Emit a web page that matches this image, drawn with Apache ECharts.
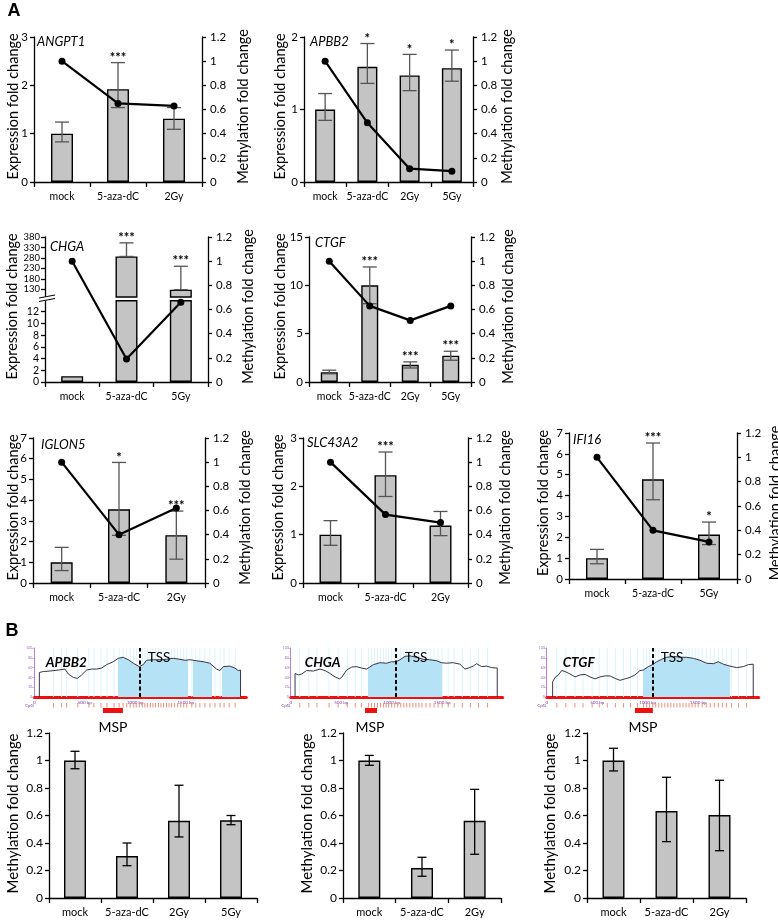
<!DOCTYPE html>
<html><head><meta charset="utf-8">
<script src="https://cdn.jsdelivr.net/npm/echarts@6/dist/echarts.min.js"></script>
<style>html,body{margin:0;padding:0;background:#fff}#c{width:778px;height:920px}</style>
</head><body><div id="c"></div>
<script>
// ================= DATA =================
// Panel A
const angpt1Cats = ['mock', '5-aza-dC', '2Gy'];
const angpt1Expr = [1.00, 1.92, 1.31];
const angpt1ErrLo = [0.83, 1.54, 1.09];
const angpt1ErrHi = [1.24, 2.47, 1.54];
const angpt1Meth = [1.00, 0.65, 0.63];
const angpt1Stars = ['', '***', ''];

const apbb2Cats = ['mock', '5-aza-dC', '2Gy', '5Gy'];
const apbb2Expr = [1.00, 1.59, 1.47, 1.57];
const apbb2ErrLo = [0.85, 1.36, 1.26, 1.39];
const apbb2ErrHi = [1.22, 1.91, 1.76, 1.82];
const apbb2Meth = [1.00, 0.49, 0.11, 0.09];
const apbb2Stars = ['', '*', '*', '*'];

const chgaCats = ['mock', '5-aza-dC', '5Gy'];
const chgaExpr = [1.0, 287, 128];
const chgaErrLo = [1.0, 287, 128];
const chgaErrHi = [1.0, 352, 240];
const chgaMeth = [1.00, 0.19, 0.66];
const chgaStars = ['', '***', '***'];
const chgaLowTicks = [0, 2, 4, 6, 8, 10, 12];
const chgaHighTicks = [130, 180, 230, 280, 330, 380];

const ctgfCats = ['mock', '5-aza-dC', '2Gy', '5Gy'];
const ctgfExpr = [1.00, 10.0, 1.78, 2.72];
const ctgfErrLo = [0.85, 8.1, 1.45, 2.25];
const ctgfErrHi = [1.22, 11.9, 2.08, 3.18];
const ctgfMeth = [1.00, 0.63, 0.51, 0.63];
const ctgfStars = ['', '***', '***', '***'];

const iglon5Cats = ['mock', '5-aza-dC', '2Gy'];
const iglon5Expr = [1.00, 3.56, 2.31];
const iglon5ErrLo = [0.60, 2.30, 1.15];
const iglon5ErrHi = [1.72, 5.82, 3.47];
const iglon5Meth = [1.00, 0.40, 0.62];
const iglon5Stars = ['', '*', '***'];

const slc43a2Cats = ['mock', '5-aza-dC', '2Gy'];
const slc43a2Expr = [1.00, 2.23, 1.19];
const slc43a2ErrLo = [0.78, 1.79, 0.98];
const slc43a2ErrHi = [1.29, 2.71, 1.48];
const slc43a2Meth = [1.00, 0.566, 0.50];
const slc43a2Stars = ['', '***', ''];

const ifi16Cats = ['mock', '5-aza-dC', '5Gy'];
const ifi16Expr = [1.00, 4.78, 2.13];
const ifi16ErrLo = [0.73, 3.80, 1.65];
const ifi16ErrHi = [1.42, 6.52, 2.73];
const ifi16Meth = [1.00, 0.40, 0.305];
const ifi16Stars = ['', '***', '*'];

// Panel B: MSP
const mspApbb2Cats = ['mock', '5-aza-dC', '2Gy', '5Gy'];
const mspApbb2Vals = [1.00, 0.305, 0.562, 0.565];
const mspApbb2Lo = [0.94, 0.235, 0.444, 0.533];
const mspApbb2Hi = [1.067, 0.40, 0.82, 0.60];

const mspChgaCats = ['mock', '5-aza-dC', '2Gy'];
const mspChgaVals = [1.00, 0.218, 0.562];
const mspChgaLo = [0.965, 0.158, 0.318];
const mspChgaHi = [1.037, 0.296, 0.79];

const mspCtgfCats = ['mock', '5-aza-dC', '2Gy'];
const mspCtgfVals = [1.00, 0.632, 0.603];
const mspCtgfLo = [0.924, 0.41, 0.344];
const mspCtgfHi = [1.089, 0.878, 0.856];

// Panel B: CpG island tracks ([bp, GC%])
const trackApbb2 = [[50,0],[50,50],[89,52],[155,53],[238,55],[304,57],[337,47],[386,40],[426,38],[469,45],[518,55],[568,57],[617,57],[667,59],[716,66],[782,72],[832,79],[881,81],[931,76],[980,69],[1040,62],[1079,66],[1112,75],[1178,76],[1244,76],[1310,77],[1376,79],[1442,77],[1492,75],[1541,76],[1607,74],[1673,72],[1739,69],[1805,57],[1838,54],[1871,62],[1937,63],[1987,59],[2020,54],[2043,55],[2043,0]];
const trackApbb2Islands = [[832,1525],[1574,1756],[1855,2043]];
const trackApbb2Tss = 1040;
const trackApbb2Msp = [680, 878];
const trackApbb2CpG = [190,270,320,430,540,590,660,720,790,840,880,915,950,985,1010,1040,1070,1095,1120,1150,1175,1200,1230,1255,1280,1310,1335,1360,1390,1420,1450,1480,1510,1560,1600,1640,1690,1740,1790,1840,1880,1930,1990];

const trackChga = [[43,0],[43,48],[76,45],[109,47],[158,54],[224,53],[290,57],[340,54],[389,48],[439,41],[482,37],[505,40],[554,55],[604,61],[653,62],[703,59],[752,57],[769,59],[818,66],[884,70],[950,69],[1000,72],[1043,72],[1082,76],[1132,83],[1181,84],[1247,81],[1313,77],[1379,76],[1445,74],[1495,70],[1544,69],[1610,70],[1676,67],[1726,57],[1759,59],[1808,63],[1841,68],[1891,62],[1940,63],[1990,60],[2046,59],[2046,0]];
const trackChgaIslands = [[769,1495]];
const trackChgaTss = 1043;
const trackChgaMsp = [736, 855];
const trackChgaCpG = [90,180,260,380,470,560,640,700,770,800,830,860,890,920,945,970,1000,1030,1060,1090,1120,1150,1180,1210,1240,1270,1300,1340,1380,1420,1460,1500,1560,1620,1700,1780,1860,1950];

const trackCtgf = [[59,0],[59,31],[83,40],[116,45],[149,54],[182,52],[231,47],[281,41],[330,45],[380,46],[429,41],[479,37],[528,41],[578,43],[627,43],[677,38],[726,34],[776,37],[825,40],[875,45],[924,54],[957,55],[1007,62],[1049,66],[1089,72],[1139,77],[1188,81],[1254,83],[1320,81],[1386,81],[1452,79],[1518,75],[1584,69],[1650,68],[1700,72],[1749,67],[1815,63],[1881,60],[1947,62],[1997,66],[2046,67],[2046,0]];
const trackCtgfIslands = [[950,1815]];
const trackCtgfTss = 1049;
const trackCtgfMsp = [874, 1052];
const trackCtgfCpG = [100,190,280,360,450,520,600,680,760,830,900,960,990,1020,1050,1080,1110,1140,1170,1200,1230,1260,1290,1320,1350,1380,1410,1440,1470,1500,1540,1580,1620,1660,1700,1740,1780,1830,1900,1980];
const trackTickValues = [0, 500, 1000, 1500];

// ================= BUILD =================
const FONT = 'Lato, "Liberation Sans", sans-serif';
const grid = [], xAxis = [], yAxis = [], series = [], graphic = [], visualMap = [];

function addGrid(l, t, w, h) {
  grid.push({left: l, top: t, width: w, height: h, containLabel: false, outerBoundsMode: 'none'});
  return grid.length - 1;
}
function catAxis(gi, cats, fs, show) {
  xAxis.push({type: 'category', gridIndex: gi, data: cats, show: show !== false, boundaryGap: true,
    axisLine: {show: true, onZero: false, lineStyle: {color: '#000', width: 1.3}},
    axisTick: {show: true, length: 5, interval: 0, alignWithLabel: false, lineStyle: {color: '#000', width: 1.3}},
    axisLabel: {show: true, interval: 0, margin: 9, fontSize: fs, fontFamily: FONT, color: '#000'},
    splitLine: {show: false}});
  return xAxis.length - 1;
}
function valAxis(gi, pos, min, max, interval, fs, extra) {
  const a = {type: 'value', gridIndex: gi, position: pos, min: min, max: max,
    axisLine: {show: true, onZero: false, lineStyle: {color: '#000', width: 1.3}},
    axisTick: {show: true, length: 4, lineStyle: {color: '#000', width: 1.3}},
    axisLabel: {margin: pos === 'left' ? 6 : 8, fontSize: fs, fontFamily: FONT, color: '#000', hideOverlap: false},
    splitLine: {show: false}};
  if (interval != null) a.interval = interval;
  if (extra) {
    if (extra.labelValues) { a.axisLabel.customValues = extra.labelValues; a.axisTick.customValues = extra.labelValues; }
    if (extra.margin != null) a.axisLabel.margin = extra.margin;
  }
  yAxis.push(a);
  return yAxis.length - 1;
}
function barSeries(xi, yi, data, bw) {
  series.push({type: 'bar', xAxisIndex: xi, yAxisIndex: yi, data: data, barWidth: bw, silent: true, z: 2,
    itemStyle: {color: '#c4c4c4', borderColor: '#000', borderWidth: 1.4}});
}
function errSeries(xi, yi, lo, hi, capW, color, clip) {
  series.push({type: 'custom', xAxisIndex: xi, yAxisIndex: yi, clip: !!clip, z: 3, silent: true,
    data: lo.map((l, i) => [i, l, hi[i]]), encode: {x: 0, y: [1, 2]},
    renderItem: function (params, api) {
      const a = api.coord([api.value(0), api.value(1)]);
      const b = api.coord([api.value(0), api.value(2)]);
      const x = a[0];
      const st = {stroke: color, lineWidth: 1.3};
      return {type: 'group', children: [
        {type: 'line', shape: {x1: x, y1: a[1], x2: x, y2: b[1]}, style: st},
        {type: 'line', shape: {x1: x - capW / 2, y1: a[1], x2: x + capW / 2, y2: a[1]}, style: st},
        {type: 'line', shape: {x1: x - capW / 2, y1: b[1], x2: x + capW / 2, y2: b[1]}, style: st}
      ]};
    }});
}
function starSeries(xi, yi, hi, stars) {
  series.push({type: 'custom', xAxisIndex: xi, yAxisIndex: yi, z: 4, silent: true,
    data: hi.map((h, i) => [i, h]), encode: {x: 0, y: 1},
    renderItem: function (params, api) {
      const s = stars[params.dataIndex];
      if (!s) return null;
      const p = api.coord([api.value(0), api.value(1)]);
      return {type: 'text', x: p[0], y: p[1] - 5,
        style: {text: s, fontSize: 13, fontWeight: 'bold', fontFamily: FONT, fill: '#000', align: 'center', verticalAlign: 'middle'}};
    }});
}
function lineSeries(xi, yi, data) {
  series.push({type: 'line', xAxisIndex: xi, yAxisIndex: yi, data: data, symbol: 'circle', symbolSize: 7, z: 5, silent: true,
    lineStyle: {color: '#000', width: 2.2}, itemStyle: {color: '#000'}});
}
function txt(x, y, s, st, rot) {
  graphic.push({type: 'text', x: x, y: y, rotation: rot || 0, z: 20, silent: true,
    style: Object.assign({text: s, fontFamily: FONT, fontSize: 14.5, fill: '#000', align: 'center', verticalAlign: 'middle'}, st || {})});
}

// ---- Panel A standard panels ----
const panelsA = [
  {gene: 'ANGPT1', cats: angpt1Cats, expr: angpt1Expr, lo: angpt1ErrLo, hi: angpt1ErrHi, meth: angpt1Meth, stars: angpt1Stars,
   l: 34, r: 202, t: 37, b: 182, max: 3, step: 1, bw: 22, tl: 13, tr: 243, gx: 37, gy: 42},
  {gene: 'APBB2', cats: apbb2Cats, expr: apbb2Expr, lo: apbb2ErrLo, hi: apbb2ErrHi, meth: apbb2Meth, stars: apbb2Stars,
   l: 304, r: 473, t: 37, b: 182, max: 2, step: 1, bw: 20, tl: 280, tr: 507, gx: 310, gy: 42},
  {gene: 'CTGF', cats: ctgfCats, expr: ctgfExpr, lo: ctgfErrLo, hi: ctgfErrHi, meth: ctgfMeth, stars: ctgfStars,
   l: 309, r: 471, t: 237, b: 382, max: 15, step: 5, bw: 17, tl: 280, tr: 508, gx: 315, gy: 243},
  {gene: 'IGLON5', cats: iglon5Cats, expr: iglon5Expr, lo: iglon5ErrLo, hi: iglon5ErrHi, meth: iglon5Meth, stars: iglon5Stars,
   l: 33, r: 205, t: 438, b: 583, max: 7, step: 1, bw: 22, tl: 13, tr: 245, gx: 41, gy: 445},
  {gene: 'SLC43A2', cats: slc43a2Cats, expr: slc43a2Expr, lo: slc43a2ErrLo, hi: slc43a2ErrHi, meth: slc43a2Meth, stars: slc43a2Stars,
   l: 303, r: 468, t: 438, b: 583, max: 3, step: 1, bw: 22, tl: 278, tr: 505, gx: 307, gy: 443},
  {gene: 'IFI16', cats: ifi16Cats, expr: ifi16Expr, lo: ifi16ErrLo, hi: ifi16ErrHi, meth: ifi16Meth, stars: ifi16Stars,
   l: 569, r: 737, t: 433, b: 579, max: 7, step: 1, bw: 22, tl: 543, tr: 775, gx: 573, gy: 440}
];
panelsA.forEach(p => {
  const gi = addGrid(p.l, p.t, p.r - p.l, p.b - p.t);
  const xi = catAxis(gi, p.cats, 10.5);
  const yl = valAxis(gi, 'left', 0, p.max, p.step, 11.5);
  const yr = valAxis(gi, 'right', 0, 1.2, 0.2, 11.5);
  barSeries(xi, yl, p.expr, p.bw);
  errSeries(xi, yl, p.lo, p.hi, 14, '#555', false);
  starSeries(xi, yl, p.hi, p.stars);
  lineSeries(xi, yr, p.meth);
  const cy = (p.t + p.b) / 2 - 3;
  txt(p.tl, cy, 'Expression fold change', null, Math.PI / 2);
  txt(p.tr, cy, 'Methylation fold change', null, Math.PI / 2);
  txt(p.gx, p.gy, p.gene, {fontStyle: 'italic', fontSize: 13, align: 'left'});
});

// ---- CHGA broken-axis panel ----
(function () {
  const L = 45, R = 208, T = 237, B = 382, breakTop = 297, breakBot = 300;
  const gFull = addGrid(L, T, R - L, B - T);
  const gUp = addGrid(L, T, R - L, breakTop - T);
  const gLo = addGrid(L, breakBot, R - L, B - breakBot);
  const xFull = catAxis(gFull, chgaCats, 10.5);
  const xUp = catAxis(gUp, chgaCats, 10, false);
  const xLo = catAxis(gLo, chgaCats, 10, false);
  const yR = valAxis(gFull, 'right', 0, 1.2, 0.2, 11.5);
  const yUp = valAxis(gUp, 'left', 93, 380, null, 9.5, {labelValues: chgaHighTicks, margin: 5});
  const yLo = valAxis(gLo, 'left', 0, 14, null, 10.5, {labelValues: chgaLowTicks, margin: 6});
  const lowMax = 14;
  barSeries(xLo, yLo, chgaExpr.map(v => Math.min(v, lowMax)), 22);
  barSeries(xUp, yUp, chgaExpr, 22);
  errSeries(xUp, yUp, chgaErrLo, chgaErrHi, 14, '#555', true);
  starSeries(xUp, yUp, chgaErrHi, chgaStars);
  lineSeries(xFull, yR, chgaMeth);
  const cy = (T + B) / 2 - 3;
  txt(12, cy, 'Expression fold change', null, Math.PI / 2);
  txt(248, cy, 'Methylation fold change', null, Math.PI / 2);
  txt(50, 247, 'CHGA', {fontStyle: 'italic', fontSize: 13, align: 'left'});
  // break marks on the axis
  graphic.push({type: 'rect', shape: {x: L - 6, y: breakTop - 0.5, width: 12, height: breakBot - breakTop + 1}, style: {fill: '#fff'}, z: 15, silent: true});
  graphic.push({type: 'line', shape: {x1: L - 6, y1: breakTop + 1, x2: L + 10, y2: breakTop - 2}, style: {stroke: '#000', lineWidth: 1}, z: 16, silent: true});
  graphic.push({type: 'line', shape: {x1: L - 6, y1: breakBot + 1.5, x2: L + 10, y2: breakBot - 1.5}, style: {stroke: '#000', lineWidth: 1}, z: 16, silent: true});
})();

// ---- Panel B MSP bar charts ----
const panelsB = [
  {cats: mspApbb2Cats, v: mspApbb2Vals, lo: mspApbb2Lo, hi: mspApbb2Hi, l: 49, r: 257, tl: 13, mx: 113},
  {cats: mspChgaCats, v: mspChgaVals, lo: mspChgaLo, hi: mspChgaHi, l: 343, r: 501, tl: 307, mx: 370},
  {cats: mspCtgfCats, v: mspCtgfVals, lo: mspCtgfLo, hi: mspCtgfHi, l: 587, r: 746, tl: 550, mx: 643}
];
panelsB.forEach(p => {
  const T = 733, B = 898;
  const gi = addGrid(p.l, T, p.r - p.l, B - T);
  const xi = catAxis(gi, p.cats, 11);
  const yi = valAxis(gi, 'left', 0, 1.2, 0.2, 12);
  barSeries(xi, yi, p.v, 22);
  errSeries(xi, yi, p.lo, p.hi, 9, '#000', false);
  txt(p.tl, (T + B) / 2 - 2, 'Methylation fold change', {fontSize: 15}, Math.PI / 2);
  txt(p.mx, 727, 'MSP', {fontSize: 14});
});

// ---- Panel B CpG tracks ----
const tracks = [
  {gene: 'APBB2', data: trackApbb2, isl: trackApbb2Islands, tss: trackApbb2Tss, msp: trackApbb2Msp, cpg: trackApbb2CpG, l: 34.3},
  {gene: 'CHGA', data: trackChga, isl: trackChgaIslands, tss: trackChgaTss, msp: trackChgaMsp, cpg: trackChgaCpG, l: 290.7},
  {gene: 'CTGF', data: trackCtgf, isl: trackCtgfIslands, tss: trackCtgfTss, msp: trackCtgfMsp, cpg: trackCtgfCpG, l: 546.7}
];
tracks.forEach(t => {
  const W = 212, T = 648, H = 49;
  const gi = addGrid(t.l, T, W, H);
  xAxis.push({type: 'value', gridIndex: gi, min: 0, max: 2100,
    axisLine: {show: true, lineStyle: {color: '#f01010', width: 3}},
    axisTick: {show: true, length: 2, customValues: trackTickValues, lineStyle: {color: '#f01010', width: 0.6}},
    axisLabel: {show: true, customValues: trackTickValues, margin: 3, fontSize: 4.5, color: '#7a3fa6', fontFamily: FONT,
      formatter: v => v === 0 ? '0' : v + ' bp'},
    splitLine: {show: false}});
  const xi = xAxis.length - 1;
  yAxis.push({type: 'value', gridIndex: gi, min: 0, max: 100,
    axisLine: {show: true, lineStyle: {color: '#b57ee0', width: 1}},
    axisTick: {show: true, length: 2, customValues: [0, 20, 40, 60, 80, 100], lineStyle: {color: '#b57ee0', width: 0.6}},
    axisLabel: {show: true, customValues: [0, 20, 40, 60, 80, 100], margin: 2, fontSize: 3.5, color: '#9a6ac8', fontFamily: FONT},
    splitLine: {show: false}});
  const yi = yAxis.length - 1;
  // CpG site lines
  series.push({type: 'custom', xAxisIndex: xi, yAxisIndex: yi, z: 1, silent: true,
    data: t.cpg.map(c => [c, 100]), encode: {x: 0, y: 1},
    renderItem: function (params, api) {
      const top = api.coord([api.value(0), 100]); const bot = api.coord([api.value(0), 0]);
      return {type: 'line', shape: {x1: top[0], y1: top[1], x2: bot[0], y2: bot[1]}, style: {stroke: '#daf4fb', lineWidth: 1}};
    }});
  // island shading (area under curve, masked to island ranges by visualMap)
  series.push({type: 'line', xAxisIndex: xi, yAxisIndex: yi, data: t.data, showSymbol: false, symbol: 'none', z: 2, silent: true,
    lineStyle: {width: 0, opacity: 0}, areaStyle: {opacity: 1}});
  visualMap.push({type: 'piecewise', show: false, seriesIndex: series.length - 1, dimension: 0,
    pieces: t.isl.map(r => ({gte: r[0], lte: r[1], color: '#b6e2f5'})),
    outOfRange: {color: 'rgba(255,255,255,0)'}});
  // GC profile line + TSS
  series.push({type: 'line', xAxisIndex: xi, yAxisIndex: yi, data: t.data, showSymbol: false, symbol: 'none', z: 3, silent: true,
    lineStyle: {color: '#3c3346', width: 1},
    markLine: {silent: true, symbol: 'none', label: {show: false}, animation: false,
      lineStyle: {color: '#000', type: [4, 2.5], width: 2}, data: [{xAxis: t.tss}]}});
  // CpG row + MSP amplicon
  const gc = addGrid(t.l, 703, W, 11);
  xAxis.push({type: 'value', gridIndex: gc, min: 0, max: 2100, show: false});
  const xc = xAxis.length - 1;
  yAxis.push({type: 'value', gridIndex: gc, min: 0, max: 11, inverse: true, show: false});
  const yc = yAxis.length - 1;
  series.push({type: 'custom', xAxisIndex: xc, yAxisIndex: yc, z: 3, silent: true,
    data: t.cpg.map(c => [c, 0]), encode: {x: 0, y: 1},
    renderItem: function (params, api) {
      const a = api.coord([api.value(0), 0]); const b = api.coord([api.value(0), 4.5]);
      return {type: 'line', shape: {x1: a[0], y1: a[1], x2: b[0], y2: b[1]}, style: {stroke: '#f07050', lineWidth: 0.8}};
    }});
  series.push({type: 'line', xAxisIndex: xc, yAxisIndex: yc, data: [[t.msp[0], 7.5], [t.msp[1], 7.5]], showSymbol: false, symbol: 'none', z: 4, silent: true,
    lineStyle: {color: '#ee1111', width: 5, cap: 'butt'}});
  txt(t.l - 5, 706, 'CpG', {fontSize: 4.5, fill: '#7a3fa6'});
  // labels
  const cx = t.l + 32;
  txt(cx, 663, t.gene, {fontSize: 13.5, fontWeight: 'bold', fontStyle: 'italic'});
});
// TSS labels
txt(159, 658, 'TSS', {fontSize: 13.5});
txt(416, 658, 'TSS', {fontSize: 13.5});
txt(672, 658, 'TSS', {fontSize: 13.5});

// panel letters
txt(14, 11, 'A', {fontSize: 18, fontWeight: 'bold', fontFamily: '"Liberation Sans", Arial, sans-serif'});
txt(12, 631, 'B', {fontSize: 18, fontWeight: 'bold', fontFamily: '"Liberation Sans", Arial, sans-serif'});

const chart = echarts.init(document.getElementById('c'), null, {renderer: 'canvas'});
chart.setOption({animation: false, backgroundColor: '#fff', textStyle: {fontFamily: FONT},
  grid: grid, xAxis: xAxis, yAxis: yAxis, series: series, visualMap: visualMap, graphic: graphic});
</script>
</body></html>
